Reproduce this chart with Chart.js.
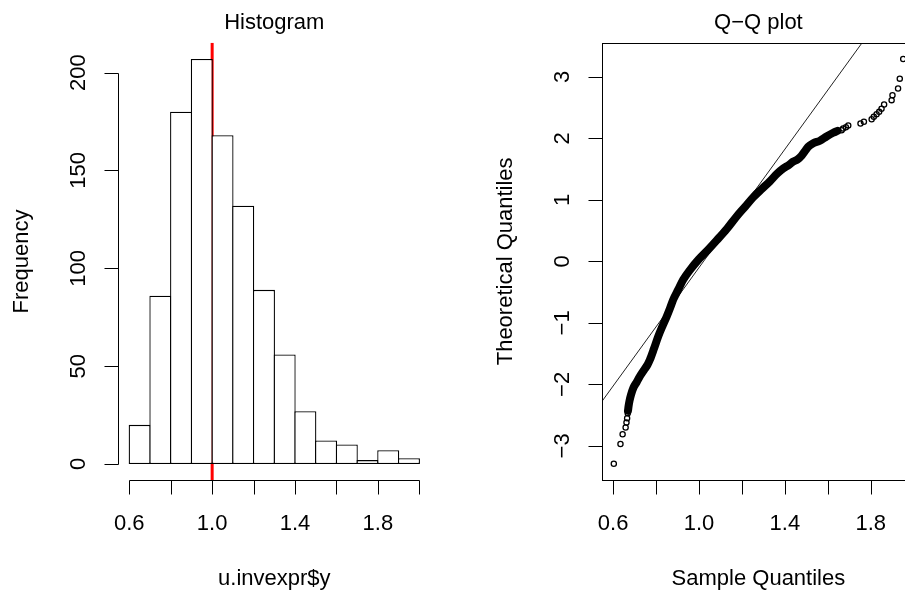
<!DOCTYPE html>
<html>
<head>
<meta charset="utf-8">
<script src="https://cdn.jsdelivr.net/npm/chart.js@4.4.1/dist/chart.umd.min.js"></script>
<style>
  html, body { margin: 0; padding: 0; background: #fff; overflow: hidden; }
  #wrap { position: relative; width: 905px; height: 592px; overflow: hidden; }
  #hist { position: absolute; left: 0; top: 0; }
  #qq { position: absolute; left: 452px; top: 0; }
</style>
</head>
<body>
<div id="wrap">
  <canvas id="hist" width="452" height="592"></canvas>
  <canvas id="qq" width="480" height="592"></canvas>
</div>
<script>
// histogram de u.invexpr$y
var binEdges = [0.6, 0.7, 0.8, 0.9, 1.0, 1.1, 1.2, 1.3, 1.4, 1.5, 1.6, 1.7, 1.8, 1.9, 2.0];
var counts = [20, 86, 180, 207, 168, 132, 89, 56, 27, 12, 10, 2, 7, 3];
var refLine = 1.0;
var histXTicks = [0.6, 0.8, 1.0, 1.2, 1.4, 1.6, 1.8, 2.0];
var histXLabels = ['0.6', '', '1.0', '', '1.4', '', '1.8', ''];
var histYTicks = [0, 50, 100, 150, 200];
var histYLabels = ['0', '50', '100', '150', '200'];
var histXMin = 0.544, histXMax = 2.056, histYMin = -8.28, histYMax = 215.28;

// Q-Q plot (x = sample quantiles, y = theoretical quantiles)
var lowS = [0.603, 0.634, 0.644, 0.658, 0.662, 0.665, 0.668];
var lowT = [-3.29, -2.97, -2.81, -2.70, -2.62, -2.55, -2.47];
var bandS = [0.669, 0.672, 0.676, 0.683, 0.695, 0.710, 0.726, 0.745, 0.760, 0.771, 0.790, 0.810, 0.830, 0.849,
             0.865, 0.880, 0.903, 0.926, 0.960, 0.998, 1.040, 1.082, 1.130, 1.175, 1.215, 1.252, 1.290, 1.330,
             1.365, 1.392, 1.420, 1.438, 1.460, 1.478, 1.495, 1.508, 1.532, 1.563, 1.594, 1.625, 1.645];
var bandT = [-2.43, -2.35, -2.27, -2.17, -2.05, -1.96, -1.86, -1.76, -1.68, -1.60, -1.42, -1.22, -1.05, -0.90,
             -0.76, -0.62, -0.46, -0.30, -0.13, 0.03, 0.18, 0.34, 0.53, 0.73, 0.89, 1.04, 1.17, 1.30,
             1.43, 1.51, 1.57, 1.62, 1.66, 1.72, 1.80, 1.86, 1.92, 1.96, 2.03, 2.09, 2.12];
var highS = [1.664, 1.671, 1.684, 1.695, 1.752, 1.768, 1.804, 1.814, 1.827, 1.839, 1.850, 1.862, 1.897, 1.901, 1.927, 1.935, 1.951];
var highT = [2.13, 2.16, 2.18, 2.21, 2.24, 2.27, 2.31, 2.35, 2.39, 2.43, 2.48, 2.55, 2.62, 2.70, 2.81, 2.97, 3.29];
var lineS = [0.547, 1.757];
var lineT = [-2.28, 3.54];
var qqXTicks = [0.6, 0.8, 1.0, 1.2, 1.4, 1.6, 1.8, 2.0];
var qqXLabels = ['0.6', '', '1.0', '', '1.4', '', '1.8', ''];
var qqYTicks = [-3, -2, -1, 0, 1, 2, 3];
var qqYLabels = ['\u22123', '\u22122', '\u22121', '0', '1', '2', '3'];
var qqXMin = 0.548, qqXMax = 2.005, qqYMin = -3.554, qqYMax = 3.554;

function pares(xs, ys) {
  return xs.map(function (v, i) { return {x: v, y: ys[i]}; });
}

var FONT = '22px "Liberation Sans", Arial, sans-serif';

// ejes estilo R, dibujados con las escalas de Chart.js
var rAxes = {
  id: 'raxes',
  afterDraw: function (chart, args, o) {
    var ctx = chart.ctx, a = chart.chartArea;
    var xs = chart.scales.x, ys = chart.scales.y;
    ctx.save();
    ctx.strokeStyle = '#000';
    ctx.fillStyle = '#000';
    ctx.lineWidth = 1;
    ctx.font = FONT;

    var yb = Math.round(a.bottom) + 0.5;
    var xl = Math.round(a.left) + 0.5;

    if (o.box) {
      ctx.strokeRect(xl, Math.round(a.top) + 0.5, Math.round(a.right) - Math.round(a.left), Math.round(a.bottom) - Math.round(a.top));
    }

    // eje x
    var x0 = Math.round(xs.getPixelForValue(o.xTicks[0])) + 0.5;
    var x1 = Math.round(xs.getPixelForValue(o.xTicks[o.xTicks.length - 1])) + 0.5;
    ctx.beginPath();
    if (!o.box) { ctx.moveTo(x0, yb); ctx.lineTo(x1, yb); }
    o.xTicks.forEach(function (v) {
      var px = Math.round(xs.getPixelForValue(v)) + 0.5;
      ctx.moveTo(px, yb); ctx.lineTo(px, yb + 14);
    });
    ctx.stroke();
    ctx.textAlign = 'center';
    ctx.textBaseline = 'alphabetic';
    o.xTicks.forEach(function (v, i) {
      if (o.xLabels[i]) ctx.fillText(o.xLabels[i], xs.getPixelForValue(v), a.bottom + 50);
    });

    // eje y
    var y0 = Math.round(ys.getPixelForValue(o.yTicks[0])) + 0.5;
    var y1 = Math.round(ys.getPixelForValue(o.yTicks[o.yTicks.length - 1])) + 0.5;
    ctx.beginPath();
    if (!o.box) { ctx.moveTo(xl, y0); ctx.lineTo(xl, y1); }
    o.yTicks.forEach(function (v) {
      var py = Math.round(ys.getPixelForValue(v)) + 0.5;
      ctx.moveTo(xl, py); ctx.lineTo(xl - 14, py);
    });
    ctx.stroke();
    o.yTicks.forEach(function (v, i) {
      ctx.save();
      ctx.translate(a.left - 33, ys.getPixelForValue(v));
      ctx.rotate(-Math.PI / 2);
      ctx.fillText(o.yLabels[i], 0, 0);
      ctx.restore();
    });

    // titulos
    var cx = (a.left + a.right) / 2, cy = (a.top + a.bottom) / 2;
    ctx.fillText(o.title, cx, 29);
    ctx.fillText(o.xTitle, cx, 585);
    ctx.save();
    ctx.translate(a.left - 90, cy);
    ctx.rotate(-Math.PI / 2);
    ctx.fillText(o.yTitle, 0, 0);
    ctx.restore();
    ctx.restore();
  }
};

new Chart(document.getElementById('hist'), {
  type: 'bar',
  data: {
    datasets: [{
      type: 'bar',
      data: counts.map(function (c, i) { return {x: (binEdges[i] + binEdges[i + 1]) / 2, y: c}; }),
      backgroundColor: '#ffffff',
      borderColor: '#000000',
      borderWidth: 1.3,
      borderSkipped: false,
      inflateAmount: 0,
      barPercentage: 1.063,
      categoryPercentage: 1
    }, {
      type: 'line',
      data: [{x: refLine, y: histYMin}, {x: refLine, y: histYMax}],
      borderColor: '#ff0000',
      borderWidth: 3,
      pointRadius: 0
    }]
  },
  options: {
    responsive: false,
    animation: false,
    devicePixelRatio: 1,
    layout: { padding: { left: 117.7, right: 21.1, top: 42.7, bottom: 111.8 } },
    plugins: {
      legend: { display: false },
      tooltip: { enabled: false },
      raxes: {
        box: false,
        xTicks: histXTicks, xLabels: histXLabels,
        yTicks: histYTicks, yLabels: histYLabels,
        title: 'Histogram', xTitle: 'u.invexpr$y', yTitle: 'Frequency'
      }
    },
    scales: {
      x: {
        type: 'linear', display: false, offset: false, min: histXMin, max: histXMax,
        afterBuildTicks: function (s) { s.ticks = histXTicks.map(function (v) { return {value: v}; }); }
      },
      y: { type: 'linear', display: false, min: histYMin, max: histYMax }
    }
  },
  plugins: [rAxes]
});

new Chart(document.getElementById('qq'), {
  type: 'scatter',
  data: {
    datasets: [{
      data: pares(bandS, bandT),
      showLine: true,
      borderColor: '#000000',
      borderWidth: 8,
      borderCapStyle: 'round',
      borderJoinStyle: 'round',
      cubicInterpolationMode: 'monotone',
      pointRadius: 0
    }, {
      data: pares(lowS, lowT).concat(pares(highS, highT)),
      pointRadius: 2.6,
      pointBorderWidth: 1.3,
      pointBorderColor: '#000000',
      pointBackgroundColor: 'rgba(0,0,0,0)'
    }, {
      data: pares(lineS, lineT),
      showLine: true,
      borderColor: '#222222',
      borderWidth: 1,
      pointRadius: 0
    }]
  },
  options: {
    responsive: false,
    animation: false,
    devicePixelRatio: 1,
    layout: { padding: { left: 150, right: 17.2, top: 42.7, bottom: 112 } },
    plugins: {
      legend: { display: false },
      tooltip: { enabled: false },
      raxes: {
        box: true,
        xTicks: qqXTicks, xLabels: qqXLabels,
        yTicks: qqYTicks, yLabels: qqYLabels,
        title: 'Q\u2212Q plot', xTitle: 'Sample Quantiles', yTitle: 'Theoretical Quantiles'
      }
    },
    scales: {
      x: { type: 'linear', display: false, min: qqXMin, max: qqXMax },
      y: { type: 'linear', display: false, min: qqYMin, max: qqYMax }
    }
  },
  plugins: [rAxes]
});
</script>
</body>
</html>
